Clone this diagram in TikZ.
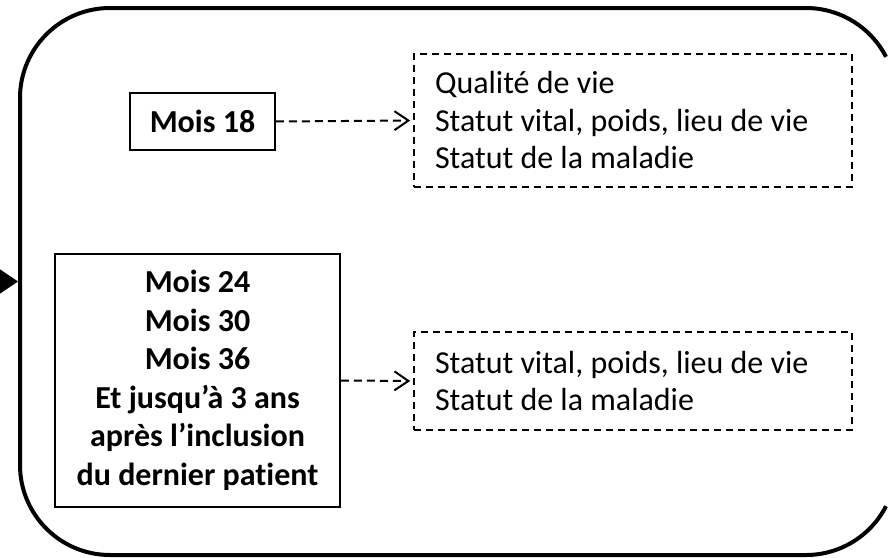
\documentclass[tikz,border=0pt]{standalone}
\usepackage{fontspec}
\setmainfont{Carlito}[Ligatures=NoCommon]
\usepackage{xcolor}
\usetikzlibrary{arrows.meta,positioning}
\definecolor{suiviBlack}{RGB}{0,0,0}

\begin{document}
\begin{tikzpicture}[x=1pt,y=-1pt,
  visite/.style={draw=suiviBlack, line width=1.6pt, align=center, inner sep=0pt,
    font=\bfseries\fontsize{32}{38.5}\selectfont},
  suivi/.style={draw=suiviBlack, line width=1.6pt, dash pattern=on 7pt off 5pt,
    align=flush left, inner xsep=21pt, inner ysep=0pt, text width=396pt, minimum width=438pt,
    font=\fontsize{32}{37.5}\selectfont},
  lien/.style={suiviBlack, line width=2pt, dash pattern=on 8pt off 5pt,
    -{Straight Barb[length=14pt,width=19pt]}, shorten >=3pt}]
\useasboundingbox (0,0) rectangle (888,557);

% phase de suivi (coupee a droite)
\draw[suiviBlack, line width=4pt]
  (886,56.8) arc[start angle=-27.25, end angle=-90, radius=90] -- (110,8)
  arc[start angle=-90, end angle=-180, radius=90] -- (20,465)
  arc[start angle=180, end angle=90, radius=90] -- (806,555)
  arc[start angle=90, end angle=27.25, radius=90];
\coordinate (phase) at (18,281.5);
\coordinate (entree) at (0,281.5);
\draw[suiviBlack, line width=1pt, -{Triangle[length=18pt,width=24pt]}] (entree) -- (phase);

% visites
\node[visite, minimum width=145pt, minimum height=57pt] (mois18) at (202.5,121.5) {Mois 18};
\node[visite, minimum width=285pt, minimum height=253pt] (mois24) at (197.5,380.5)
  {Mois 24\\Mois 30\\Mois 36\\Et jusqu’à 3 ans\\après l’inclusion\\du dernier patient};

% recueil
\node[suivi, minimum height=133pt] (suivi1) at (633,120.5)
  {Qualité de vie\\Statut vital, poids, lieu de vie\\Statut de la maladie};
\node[suivi, minimum height=98pt] (suivi2) at (633,381)
  {Statut vital, poids, lieu de vie\\Statut de la maladie};

\draw[lien] (mois18.east) -- (suivi1.west);
\draw[lien] (mois24.east) -- (suivi2.west);
\end{tikzpicture}
\end{document}
